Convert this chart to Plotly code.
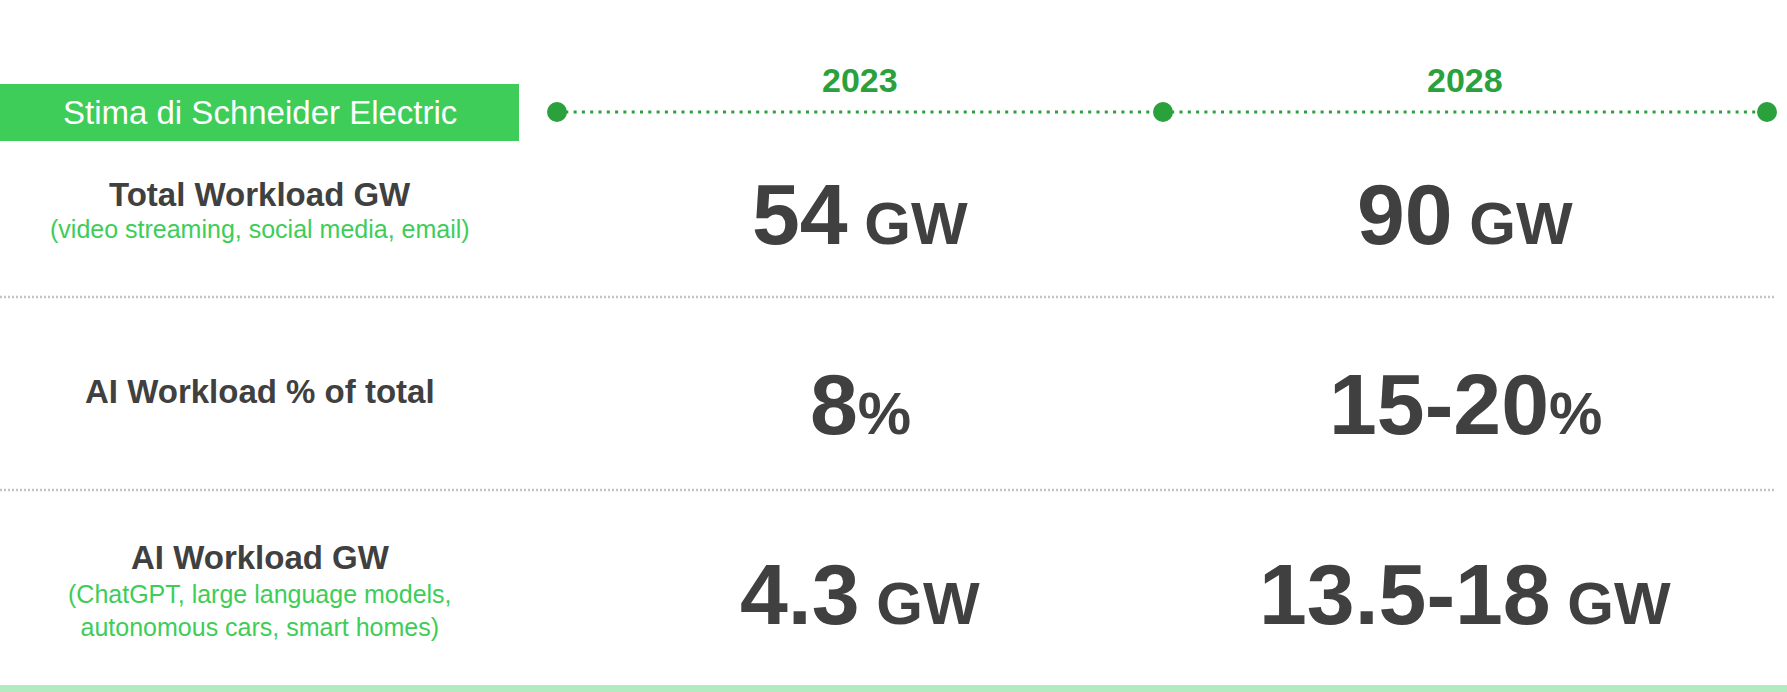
import plotly.graph_objects as go

# ---- data ----
header_label = "Stima di Schneider Electric"
years = ["2023", "2028"]
row_titles = ["Total Workload GW", "AI Workload % of total", "AI Workload GW"]
row_notes = ["(video streaming, social media, email)", "",
             "(ChatGPT, large language models,<br>autonomous cars, smart homes)"]
values_2023 = ["54", "8", "4.3"]
values_2028 = ["90", "15-20", "13.5-18"]
units = [" GW", "%", " GW"]

# ---- layout constants ----
W, H = 1787, 692
FONT = "Liberation Sans, Arial, Helvetica, sans-serif"
DARK = "#404040"
GREEN_BOX = "#3dcd58"
GREEN_DARK = "#2aa13d"
GREEN_NOTE = "#3dcd58"

node_x = [557, 1163, 1767]
timeline_y = 112
col_x = [(node_x[i] + node_x[i + 1]) / 2 for i in range(2)]
label_x = 260
title_y = [194, 391, 557]
note_y = [229, None, 610]
value_y = [214, 404, 594]
sep_y = [297, 490]

fig = go.Figure()

# timeline dotted line
fig.add_trace(go.Scatter(
    x=[node_x[0], node_x[-1]], y=[timeline_y, timeline_y], mode="lines",
    line=dict(color=GREEN_DARK, width=3, dash="3px,5.3px"),
    hoverinfo="skip", showlegend=False))
# timeline nodes
fig.add_trace(go.Scatter(
    x=node_x, y=[timeline_y] * len(node_x), mode="markers",
    marker=dict(color=GREEN_DARK, size=20, line=dict(width=0)),
    hoverinfo="skip", showlegend=False))

shapes = []
# header box
shapes.append(dict(type="rect", xref="x", yref="y", x0=0, x1=519, y0=84, y1=141,
                   fillcolor=GREEN_BOX, line=dict(width=0), layer="below"))
# separators
for sy in sep_y:
    shapes.append(dict(type="line", xref="x", yref="y", x0=0, x1=1775, y0=sy, y1=sy,
                       line=dict(color="#c4c4c4", width=2.5, dash="2px,2px")))
# bottom bar
shapes.append(dict(type="rect", xref="x", yref="y", x0=0, x1=W, y0=685, y1=H,
                   fillcolor="#b2ebbf", line=dict(width=0), layer="below"))

ann = []
ann.append(dict(x=label_x, y=112, xref="x", yref="y", text=header_label, showarrow=False,
                font=dict(family=FONT, size=33, color="white"),
                xanchor="center", yanchor="middle"))
for i, yr in enumerate(years):
    ann.append(dict(x=col_x[i], y=80, xref="x", yref="y", text="<b>%s</b>" % yr, showarrow=False,
                    font=dict(family=FONT, size=34, color=GREEN_DARK),
                    xanchor="center", yanchor="middle"))

for r in range(len(row_titles)):
    ann.append(dict(x=label_x, y=title_y[r], xref="x", yref="y",
                    text="<b>%s</b>" % row_titles[r], showarrow=False,
                    font=dict(family=FONT, size=33, color=DARK),
                    xanchor="center", yanchor="middle"))
    if row_notes[r]:
        ann.append(dict(x=label_x, y=note_y[r], xref="x", yref="y",
                        text=row_notes[r], showarrow=False,
                        font=dict(family=FONT, size=25, color=GREEN_NOTE),
                        xanchor="center", yanchor="middle", align="center"))
    for c, vals in enumerate([values_2023, values_2028]):
        txt = "<b>%s<span style='font-size:60px'>%s</span></b>" % (vals[r], units[r])
        ann.append(dict(x=col_x[c], y=value_y[r], xref="x", yref="y",
                        text=txt, showarrow=False,
                        font=dict(family=FONT, size=86, color=DARK),
                        xanchor="center", yanchor="middle"))

fig.update_layout(
    width=W, height=H, autosize=False,
    margin=dict(l=0, r=0, t=0, b=0),
    paper_bgcolor="white", plot_bgcolor="white",
    xaxis=dict(range=[0, W], visible=False, fixedrange=True),
    yaxis=dict(range=[H, 0], visible=False, fixedrange=True),
    shapes=shapes, annotations=ann, showlegend=False,
)

fig.write_html("out.html", config={"displayModeBar": False},
               post_script="document.body.style.margin='0';document.body.style.overflow='hidden';")
